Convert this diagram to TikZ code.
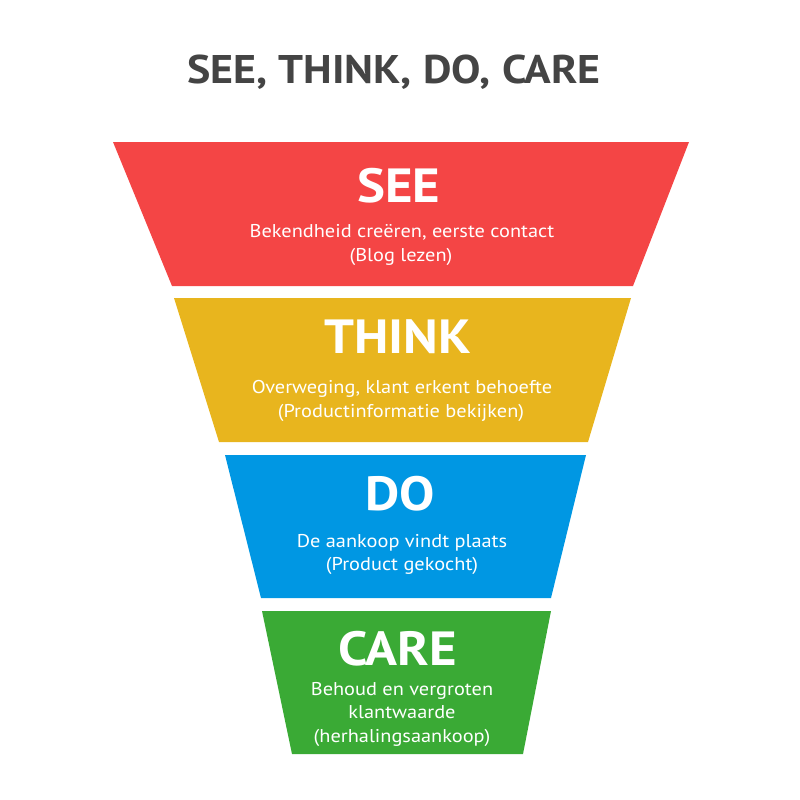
\documentclass[tikz,border=0pt]{standalone}
\usepackage{fontspec}
\setmainfont[FakeStretch=1.1]{PT Sans}
\usetikzlibrary{positioning}
\definecolor{seered}{HTML}{F44545}
\definecolor{thinkyellow}{HTML}{E8B51E}
\definecolor{doblue}{HTML}{0097E3}
\definecolor{caregreen}{HTML}{3AAA35}
\definecolor{titlegray}{HTML}{444444}

\begin{document}
\begin{tikzpicture}[x=1pt,y=-1pt,
    heading/.style={text=titlegray,anchor=base,inner sep=0pt,font=\fontsize{40}{40}\selectfont\bfseries},
    stagename/.style={text=white,anchor=base,inner sep=0pt,font=\fontsize{48}{48}\selectfont\bfseries},
    stagetext/.style={text=white,anchor=base,inner sep=0pt,font=\fontsize{18.5}{24}\selectfont}]

        \useasboundingbox (0,0) rectangle (800,800);

        % titel
        \node[heading] (title) at (394,83) {SEE, THINK, DO, CARE};

        % trechter
        \fill[seered] (113,142) -- (689,142) -- (633,286) -- (172,286) -- cycle;
        \fill[thinkyellow] (174,298) -- (631,298) -- (588,442) -- (219,442) -- cycle;
        \fill[doblue] (225,455) -- (586,455) -- (551,598) -- (261,598) -- cycle;
        \fill[caregreen] (262,611) -- (551,611) -- (523,754) -- (292,754) -- cycle;

        % SEE
        \node[stagename] (see) at (399,202) {SEE};
        \node[stagetext] (see1) at (402,237) {Bekendheid creëren, eerste contact};
        \node[stagetext] (see2) at (401,261) {(Blog lezen)};

        % THINK
        \node[stagename] (think) at (398,353) {THINK};
        \node[stagetext] (think1) at (402,393) {Overweging, klant erkent behoefte};
        \node[stagetext] (think2) at (401,417) {(Productinformatie bekijken)};

        % DO
        \node[stagename] (do) at (400,510) {DO};
        \node[stagetext] (do1) at (402,547) {De aankoop vindt plaats};
        \node[stagetext] (do2) at (402,570) {(Product gekocht)};

        % CARE
        \node[stagename] (care) at (398,665) {CARE};
        \node[stagetext] (care1) at (402,695) {Behoud en vergroten};
        \node[stagetext] (care2) at (402,718) {klantwaarde};
        \node[stagetext] (care3) at (402,742) {(herhalingsaankoop)};

\end{tikzpicture}
\end{document}
